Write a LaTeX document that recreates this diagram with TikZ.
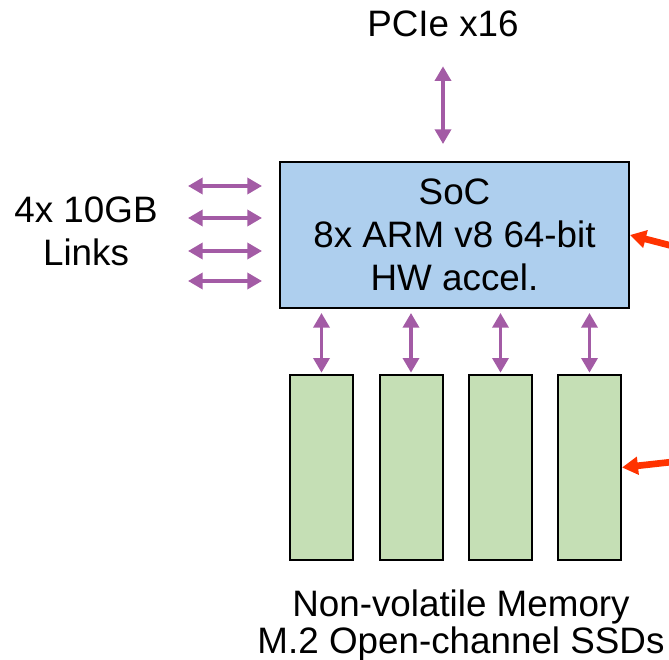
\documentclass[tikz,border=0pt]{standalone}
\usepackage{fontspec}
\setmainfont{Liberation Sans}
\usetikzlibrary{arrows.meta}

\definecolor{socblue}{HTML}{AECFEE}
\definecolor{ssdgreen}{HTML}{C5DFB5}
\definecolor{linkpurple}{HTML}{A35BA5}
\definecolor{feedred}{HTML}{FF3300}

\begin{document}
\begin{tikzpicture}[x=0.75pt, y=-0.75pt,
    dbl/.style={{Triangle[length=11pt,width=12pt]}-{Triangle[length=11pt,width=12pt]},
        line width=2.6pt, linkpurple},
    feed/.style={-{Triangle[length=12pt,width=13pt]}, line width=5pt, feedred},
    label/.style={font=\fontsize{27.6}{32.4}\selectfont, align=center, inner sep=0pt},
    ssd/.style={draw, line width=1.5pt, fill=ssdgreen, minimum width=47.25pt,
        minimum height=138.75pt, inner sep=0pt}]

    \useasboundingbox (0,0) rectangle (669,660);
    \clip (0,0) rectangle (669,660);

    % SoC
    \node[draw, line width=1.5pt, fill=socblue, minimum width=261.75pt,
        minimum height=109.5pt, label] (soc) at (454.5,235)
        {SoC\\8x ARM v8 64-bit\\HW accel.};

    % SSDs
    \foreach \i/\x in {1/321.5, 2/411, 3/500.5, 4/589.5} {
        \node[ssd] (ssd\i) at (\x,467.5) {};
        \draw[dbl, shorten <=1pt, shorten >=3pt] (ssd\i.north) -- (ssd\i.north |- soc.south);
    }

    % PCIe
    \node[label] (pcie) at (443,24) {PCIe x16};
    \draw[dbl, shorten <=21.75pt, shorten >=12.75pt] (pcie.south) -- (pcie.south |- soc.north);

    % Links
    \node[label] (links) at (86,231) {4x 10GB\\Links};
    \foreach \i/\y in {1/186, 2/218, 3/251, 4/281} {
        \coordinate (lnkl\i) at (188,\y);
        \coordinate (lnkr\i) at (262,\y);
        \draw[dbl] (lnkl\i) -- (lnkr\i);
    }

    % Memory
    \node[label, font=\fontsize{27.6}{27.75}\selectfont] (nvm) at (461,625)
        {Non-volatile Memory\\M.2 Open-channel SSDs};

    % Red arrows
    \coordinate (feedsoc) at (690,250.5);
    \coordinate (feedssd) at (690,460);
    \draw[feed] (feedsoc) -- (soc.east);
    \draw[feed] (feedssd) -- (ssd4.east);

\end{tikzpicture}
\end{document}
